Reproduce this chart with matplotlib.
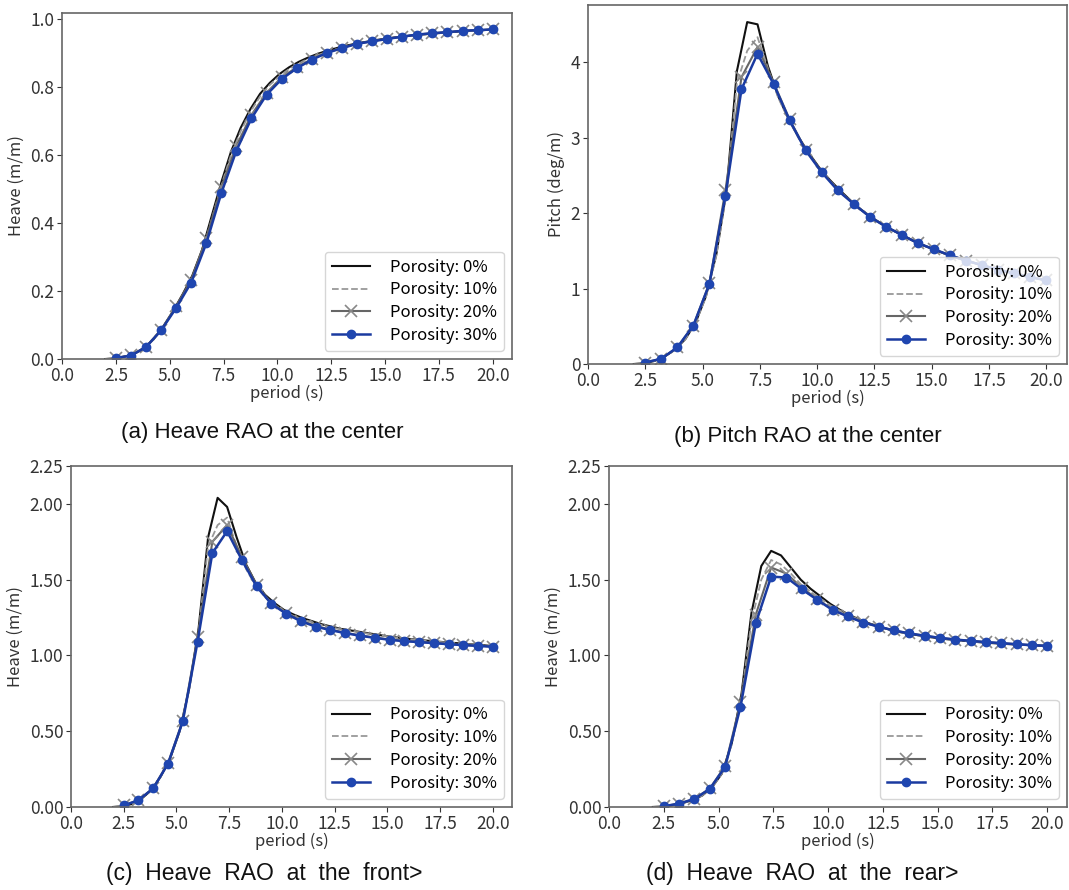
import numpy as np
import matplotlib
matplotlib.use("Agg")
import matplotlib.pyplot as plt

plt.rcParams['font.family'] = ['Noto Sans CJK KR', 'DejaVu Sans']

# 주기 (s) - 0%, 10% 는 0.45 s 간격, 20%, 30% 는 0.7 s 간격
period_fine = [2.0, 2.45, 2.9, 3.35, 3.8, 4.25, 4.7, 5.15, 5.6, 6.05, 6.5, 6.95, 7.4,
               7.85, 8.3, 8.75, 9.2, 9.65, 10.1, 10.55, 11.0, 11.45, 11.9, 12.35, 12.8,
               13.25, 13.7, 14.15, 14.6, 15.05, 15.5, 15.95, 16.4, 16.85, 17.3, 17.75,
               18.2, 18.65, 19.1, 19.55, 20.0]
period_coarse = [2.5, 3.2, 3.9, 4.6, 5.3, 6.0, 6.7, 7.4, 8.1, 8.8, 9.5, 10.2, 10.9, 11.6,
                 12.3, 13.0, 13.7, 14.4, 15.1, 15.8, 16.5, 17.2, 17.9, 18.6, 19.3, 20.0]

labels = ['Porosity: 0%', 'Porosity: 10%', 'Porosity: 20%', 'Porosity: 30%']

# (a) Heave RAO at the center
heave_c_0 = [0.0, 0.002, 0.007, 0.015, 0.032, 0.058, 0.095, 0.14, 0.19, 0.245, 0.32, 0.42,
             0.52, 0.61, 0.68, 0.735, 0.78, 0.812, 0.838, 0.858, 0.874, 0.887, 0.898, 0.907,
             0.915, 0.922, 0.928, 0.933, 0.938, 0.942, 0.946, 0.949, 0.952, 0.955, 0.957,
             0.96, 0.962, 0.964, 0.966, 0.967, 0.969]
heave_c_10 = [0.0, 0.002, 0.007, 0.015, 0.032, 0.057, 0.093, 0.137, 0.186, 0.24, 0.313, 0.41,
              0.51, 0.6, 0.67, 0.727, 0.772, 0.806, 0.832, 0.853, 0.869, 0.883, 0.894, 0.904,
              0.912, 0.92, 0.926, 0.931, 0.936, 0.941, 0.945, 0.948, 0.951, 0.954, 0.957,
              0.959, 0.962, 0.964, 0.965, 0.967, 0.969]
heave_c_20 = [0.003, 0.011, 0.036, 0.086, 0.155, 0.233, 0.355, 0.505, 0.627, 0.718, 0.783,
              0.828, 0.858, 0.882, 0.901, 0.915, 0.927, 0.935, 0.942, 0.948, 0.954, 0.958,
              0.961, 0.965, 0.967, 0.969]
heave_c_30 = [0.003, 0.01, 0.035, 0.084, 0.15, 0.225, 0.34, 0.488, 0.613, 0.708, 0.777,
              0.823, 0.855, 0.88, 0.9, 0.914, 0.927, 0.934, 0.941, 0.948, 0.954, 0.958,
              0.961, 0.965, 0.967, 0.969]

# (b) Pitch RAO at the center
pitch_0 = [0.0, 0.01, 0.04, 0.1, 0.19, 0.33, 0.55, 0.9, 1.45, 2.3, 3.88, 4.53, 4.5, 3.95,
           3.55, 3.25, 3.0, 2.79, 2.6, 2.44, 2.3, 2.17, 2.05, 1.95, 1.86, 1.78, 1.71, 1.64,
           1.58, 1.52, 1.47, 1.42, 1.38, 1.34, 1.3, 1.26, 1.23, 1.2, 1.17, 1.14, 1.11]
pitch_10 = [0.0, 0.01, 0.04, 0.1, 0.19, 0.33, 0.55, 0.89, 1.43, 2.27, 3.72, 4.15, 4.33, 3.92,
            3.53, 3.24, 2.99, 2.78, 2.59, 2.43, 2.29, 2.16, 2.05, 1.95, 1.86, 1.78, 1.71,
            1.64, 1.58, 1.52, 1.47, 1.42, 1.38, 1.34, 1.3, 1.26, 1.23, 1.2, 1.17, 1.14, 1.11]
pitch_20 = [0.02, 0.07, 0.22, 0.51, 1.07, 2.3, 3.8, 4.2, 3.73, 3.24, 2.84, 2.55, 2.31, 2.12,
            1.95, 1.82, 1.71, 1.6, 1.52, 1.44, 1.37, 1.31, 1.25, 1.2, 1.15, 1.11]
pitch_30 = [0.02, 0.07, 0.22, 0.51, 1.06, 2.23, 3.64, 4.11, 3.71, 3.23, 2.83, 2.54, 2.3, 2.12,
            1.95, 1.82, 1.71, 1.6, 1.52, 1.44, 1.37, 1.31, 1.25, 1.2, 1.15, 1.11]

# (c) Heave RAO at the front
heave_f_0 = [0.0, 0.005, 0.02, 0.055, 0.11, 0.2, 0.32, 0.5, 0.78, 1.18, 1.78, 2.04, 1.98,
             1.78, 1.6, 1.48, 1.4, 1.345, 1.3, 1.27, 1.245, 1.225, 1.205, 1.19, 1.175, 1.165,
             1.155, 1.145, 1.135, 1.125, 1.118, 1.11, 1.104, 1.098, 1.092, 1.087, 1.082,
             1.077, 1.072, 1.067, 1.062]
heave_f_10 = [0.0, 0.005, 0.02, 0.055, 0.11, 0.2, 0.32, 0.5, 0.77, 1.16, 1.72, 1.86, 1.91,
              1.72, 1.57, 1.46, 1.385, 1.335, 1.29, 1.26, 1.237, 1.218, 1.2, 1.185, 1.172,
              1.162, 1.152, 1.142, 1.133, 1.124, 1.116, 1.109, 1.103, 1.097, 1.091, 1.086,
              1.081, 1.076, 1.071, 1.066, 1.061]
heave_f_20 = [0.01, 0.045, 0.125, 0.29, 0.57, 1.12, 1.75, 1.86, 1.65, 1.465, 1.345, 1.28,
              1.23, 1.195, 1.17, 1.15, 1.132, 1.118, 1.105, 1.096, 1.089, 1.082, 1.075,
              1.069, 1.064, 1.058]
heave_f_30 = [0.01, 0.045, 0.123, 0.286, 0.565, 1.09, 1.675, 1.82, 1.63, 1.455, 1.34, 1.275,
              1.225, 1.19, 1.167, 1.147, 1.13, 1.116, 1.103, 1.094, 1.088, 1.081, 1.074,
              1.068, 1.063, 1.057]

# (d) Heave RAO at the rear
heave_r_0 = [0.0, 0.003, 0.012, 0.025, 0.045, 0.075, 0.13, 0.22, 0.42, 0.75, 1.28, 1.59, 1.69,
             1.66, 1.58, 1.5, 1.44, 1.39, 1.34, 1.3, 1.265, 1.235, 1.21, 1.19, 1.17, 1.155,
             1.143, 1.132, 1.122, 1.113, 1.106, 1.1, 1.094, 1.088, 1.083, 1.079, 1.075,
             1.071, 1.068, 1.065, 1.062]
heave_r_10 = [0.0, 0.003, 0.012, 0.025, 0.045, 0.075, 0.13, 0.22, 0.41, 0.73, 1.22, 1.5, 1.63,
              1.6, 1.54, 1.47, 1.42, 1.375, 1.33, 1.295, 1.262, 1.233, 1.208, 1.188, 1.169,
              1.154, 1.142, 1.131, 1.121, 1.112, 1.105, 1.099, 1.093, 1.088, 1.083, 1.079,
              1.075, 1.071, 1.068, 1.065, 1.062]
heave_r_20 = [0.005, 0.022, 0.054, 0.122, 0.27, 0.69, 1.27, 1.58, 1.54, 1.447, 1.372, 1.303,
              1.258, 1.218, 1.19, 1.165, 1.146, 1.13, 1.116, 1.105, 1.096, 1.088, 1.081,
              1.074, 1.068, 1.063]
heave_r_30 = [0.005, 0.022, 0.053, 0.119, 0.264, 0.66, 1.213, 1.52, 1.514, 1.437, 1.367, 1.3,
              1.257, 1.217, 1.19, 1.165, 1.145, 1.13, 1.116, 1.105, 1.096, 1.088, 1.081,
              1.074, 1.068, 1.063]

panels = [
    # (axes rect, ylabel, series, caption, caption pos)
    ([0.058, 0.5966, 0.421, 0.3888], 'Heave (m/m)',
     (heave_c_0, heave_c_10, heave_c_20, heave_c_30),
     '(a) Heave RAO at the center', (0.245, 0.5146)),
    ([0.550, 0.591, 0.448, 0.4034], 'Pitch (deg/m)',
     (pitch_0, pitch_10, pitch_20, pitch_30),
     '(b) Pitch RAO at the center', (0.756, 0.510)),
    ([0.0664, 0.0933, 0.4125, 0.3831], 'Heave (m/m)',
     (heave_f_0, heave_f_10, heave_f_20, heave_f_30),
     '(c)  Heave  RAO  at  the  front>', (0.247, 0.019)),
    ([0.5697, 0.0933, 0.4284, 0.3831], 'Heave (m/m)',
     (heave_r_0, heave_r_10, heave_r_20, heave_r_30),
     '(d)  Heave  RAO  at  the  rear>', (0.750, 0.019)),
]

fig = plt.figure(figsize=(10.69, 8.9), dpi=100)

for i, (rect, ylab, (s0, s10, s20, s30), cap, cpos) in enumerate(panels):
    ax = fig.add_axes(rect)
    ax.plot(period_fine, s0, color='#111111', lw=1.5, label=labels[0])
    ax.plot(period_fine, s10, color='#999999', lw=1.3, ls='--', label=labels[1])
    ax.plot(period_coarse, s20, color='#666666', lw=1.5, marker='x', ms=8,
            mec='#888888', mew=1.2, label=labels[2])
    ax.plot(period_coarse, s30, color='#1a3aa0', lw=1.8, marker='o', ms=6,
            mfc='#1f46b0', mec='#1f46b0', label=labels[3])

    ax.set_xlim(left=0)
    ax.set_xticks(np.arange(0, 20.1, 2.5))
    ax.set_xticklabels(['%.1f' % t for t in np.arange(0, 20.1, 2.5)])
    if i >= 2:
        ax.set_ylim(0, 2.25)
        yt = [0, 0.5, 1.0, 1.5, 2.0, 2.25]
        ax.set_yticks(yt)
        ax.set_yticklabels(['%.2f' % t for t in yt])
    else:
        ax.set_ylim(bottom=0)

    ax.set_xlabel('period (s)', fontsize=12, color='#333333', labelpad=0)
    ax.set_ylabel(ylab, fontsize=12, color='#333333', labelpad=4)
    ax.tick_params(labelsize=12.5, colors='#333333', length=3.5, pad=2)
    for sp in ax.spines.values():
        sp.set_color('#666666')
        sp.set_linewidth(1.2)

    ax.legend(loc='lower right', fontsize=12, handlelength=2.3,
              labelspacing=0.35, borderpad=0.4, handletextpad=1.2)

    fig.text(cpos[0], cpos[1], cap, ha='center', va='center',
             fontsize=16 if i < 2 else 16.5,
             family=['Liberation Sans', 'DejaVu Sans'], color='#111111')

fig.savefig('out.png', dpi=100)
